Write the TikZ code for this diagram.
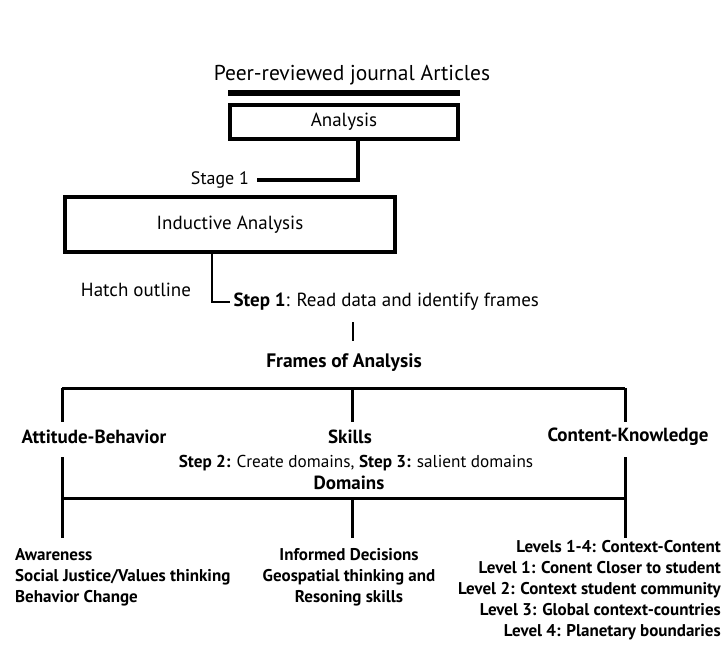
\documentclass[tikz,border=0pt]{standalone}
\usepackage{fontspec}
\setmainfont{PT Sans}
\usetikzlibrary{positioning}

\begin{document}
\begin{tikzpicture}[x=1pt,y=-1pt,on grid,
            box/.style={draw,line width=4pt,inner sep=0pt},
            plain/.style={font=\fontsize{19}{22}\selectfont},
            head/.style={font=\bfseries\fontsize{19}{22}\selectfont},
            list/.style={font=\bfseries\fontsize{17}{21}\selectfont,inner sep=0pt},
            tree/.style={line width=3pt}]
            \useasboundingbox[fill=white] (0,0) rectangle (723,648);
            \node[font=\fontsize{21.5}{24}\selectfont](title) at (352,75){Peer-reviewed journal Articles};
            \node[box, plain, minimum width=228pt, minimum height=34pt](analysis) at (344,122){Analysis\hspace{8pt}};
            \node[plain, font=\fontsize{18}{21}\selectfont](stage1) at (220,180){Stage 1};
            \node[box, plain, minimum width=330pt, minimum height=55pt](inductive) at (230,224.5){Inductive Analysis\hspace{23pt}};
            \node[plain](hatch) at (136,290){Hatch outline};
            \node[plain, anchor=west](step1) at (230,302){\textbf{Step 1}: Read data and identify frames};
            \node[head, font=\bfseries\fontsize{19.5}{22}\selectfont](frames) at (344,363){Frames of Analysis};
            \node[head](skills) at (350,437){Skills};
            \node[head, left=256pt of skills](attitude){Attitude-Behavior};
            \node[head, right=278pt of skills](content){Content-Knowledge};
            \node[plain, font=\fontsize{17.2}{21}\selectfont, below right=26pt and 6pt of skills](steps){\textbf{Step 2:} Create domains, \textbf{Step 3:} salient domains};
            \node[head, below left=20pt and 7pt of steps](domains){Domains};
            \node[list, align=left, anchor=west](aware) at (15,577){Awareness\\Social Justice/Values thinking\\Behavior Change};
            \node[list, align=center](informed) at (349,577){Informed Decisions\\Geospatial thinking and\\Resoning skills};
            \node[list, align=right, anchor=east](levels) at (721,590){Levels 1-4: Context-Content\\Level 1: Conent Closer to student\\Level 2: Context student community\\Level 3: Global context-countries\\Level 4: Planetary boundaries};
            % joints of the two bars
            \coordinate (s1) at (353,322);
            \coordinate (s2) at (353,341);
            \coordinate (t1) at (62,388);
            \coordinate (t2) at (352,388);
            \coordinate (t3) at (625,388);
            \coordinate (d1) at (62,498);
            \coordinate (d2) at (352,498);
            \coordinate (d3) at (625,498);
            \draw[line width=6pt] ([yshift=10pt]analysis.north west) -- ([yshift=10pt]analysis.north east);
            \draw[line width=4.5pt] ([xshift=14pt]analysis.south) |- ([xshift=4pt]stage1.east);
            \draw[line width=1.5pt] ([xshift=-18pt]inductive.south) |- (step1.west);
            \draw[line width=2pt] (s1) -- (s2);
            \path[tree]
            (t1) edge (t3)
            (t1) edge ++(0,34)
            (t2) edge ++(0,34)
            (t3) edge ++(0,34)
            (d1) edge ++(0,-41)
            (d3) edge ++(0,-41)
            (d1) edge (d3)
            (d1) edge ++(0,40)
            (d2) edge ++(0,40)
            (d3) edge ++(0,40);
        \end{tikzpicture}
\end{document}
